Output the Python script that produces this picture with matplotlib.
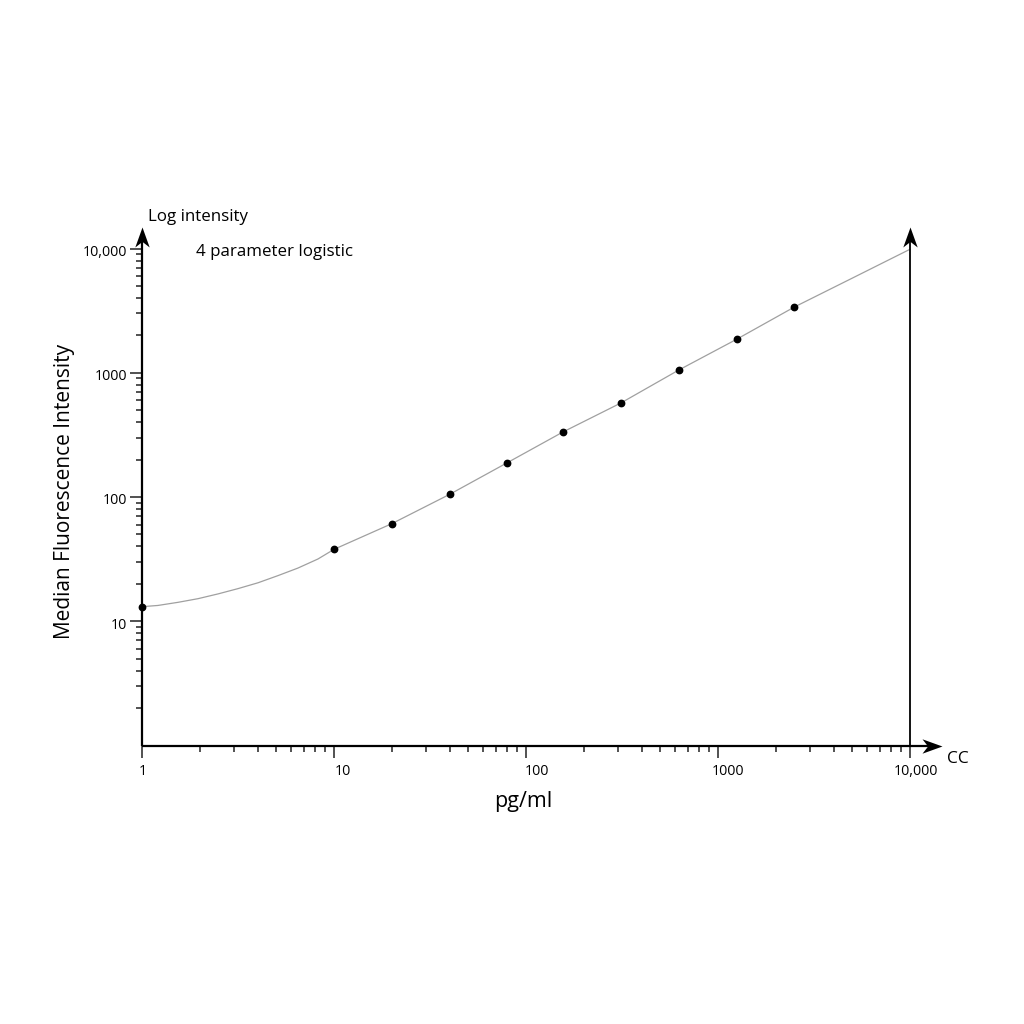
import matplotlib
matplotlib.use("Agg")
import matplotlib.pyplot as plt
from matplotlib.path import Path
from matplotlib.transforms import ScaledTranslation
from matplotlib.ticker import FixedLocator, LogLocator, NullFormatter

plt.rcParams['font.family'] = ['Open Sans', 'DejaVu Sans']

# ---- data ----
conc = [1, 10, 20, 40, 80, 156, 312, 625, 1250, 2500]
mfi = [13.1, 37.9, 61.0, 105, 189, 334, 571, 1052, 1859, 3382]

curve_x = [1, 1.21, 1.54, 1.96, 2.49, 3.16, 4.02, 5.11, 6.49, 8.25, 10, 20, 40,
           80, 156, 312, 625, 1250, 2500, 5000, 10000]
curve_y = [13.1, 13.4, 14.2, 15.2, 16.6, 18.3, 20.4, 23.3, 26.8, 31.7, 37.9,
           61.0, 105, 189, 334, 571, 1052, 1859, 3382, 5770, 9860]

x_ticks = [1, 10, 100, 1000, 10000]
x_tick_labels = ['1', '10', '100', '1000', '10,000']
y_ticks = [10, 100, 1000, 10000]
y_tick_labels = ['10', '100', '1000', '10,000']

W = H = 1024
fig = plt.figure(figsize=(10.24, 10.24), dpi=100)
ax_left, ax_right, ax_top, ax_bot = 142, 910, 248.5, 745.5
ax = fig.add_axes([ax_left / W, 1 - ax_bot / H, (ax_right - ax_left) / W, (ax_bot - ax_top) / H])
ax.set_xscale('log')
ax.set_yscale('log')
ax.set_xlim(1, 10000)
ax.set_ylim(1, 10000)
for s in ax.spines.values():
    s.set_visible(False)

ax.plot(curve_x, curve_y, color='#a0a0a0', lw=0.9, clip_on=False, zorder=2)
ax.plot(conc, mfi, 'o', color='black', ms=4.6, clip_on=False, zorder=3)

# ticks
ax.xaxis.set_major_locator(FixedLocator(x_ticks))
ax.set_xticklabels(x_tick_labels)
ax.yaxis.set_major_locator(FixedLocator(y_ticks))
ax.set_yticklabels(y_tick_labels)
for axis in (ax.xaxis, ax.yaxis):
    axis.set_minor_locator(LogLocator(base=10, subs=range(2, 10), numticks=20))
    axis.set_minor_formatter(NullFormatter())
ax.tick_params(which='major', direction='out', length=8.5, width=1.1, color='#222222',
               labelsize=10.3, labelcolor='black')
ax.tick_params(which='minor', direction='out', length=4.2, width=1.1, color='#222222')
ax.tick_params(axis='x', which='major', pad=5)
ax.tick_params(axis='y', which='major', pad=2)

x_offsets = [1, 9, 11, 9.5, 5.5]
for lab, dx in zip(ax.get_xticklabels(), x_offsets):
    lab.set_transform(lab.get_transform() + ScaledTranslation(dx / 100, 0, fig.dpi_scale_trans))
for lab in ax.get_yticklabels():
    lab.set_transform(lab.get_transform() + ScaledTranslation(0, -2 / 100, fig.dpi_scale_trans))

# axis lines with arrows (axes coordinates)
tip_y = 1 + (ax_top - 227) / (ax_bot - ax_top)
tip_x = 1 + (942 - ax_right) / (ax_right - ax_left)
notch_y = 1 + (ax_top - 241) / (ax_bot - ax_top)
notch_x = 1 + (928 - ax_right) / (ax_right - ax_left)
T = ax.transAxes
ax.plot([0, 0], [0, notch_y], color='black', lw=1.6, transform=T, clip_on=False, solid_capstyle='butt')
ax.plot([0, notch_x], [0, 0], color='black', lw=1.6, transform=T, clip_on=False, solid_capstyle='butt')
ax.plot([1, 1], [0, notch_y], color='black', lw=1.3, transform=T, clip_on=False, solid_capstyle='butt')

up = Path([(0, 0), (-0.36, -1), (0, -0.72), (0.36, -1), (0, 0)],
          [Path.MOVETO, Path.LINETO, Path.LINETO, Path.LINETO, Path.CLOSEPOLY])
right = Path([(0, 0), (-1, 0.36), (-0.72, 0), (-1, -0.36), (0, 0)],
             [Path.MOVETO, Path.LINETO, Path.LINETO, Path.LINETO, Path.CLOSEPOLY])
ms_arrow = 2 * 20 * 72 / 100
ax.plot([0, 1], [tip_y, tip_y], marker=up, ms=ms_arrow, color='black', ls='none',
        transform=T, clip_on=False, mew=0)
ax.plot([tip_x], [0], marker=right, ms=ms_arrow, color='black', ls='none',
        transform=T, clip_on=False, mew=0)

# texts
fig.text(148 / W, 1 - 217 / H, 'Log intensity', fontsize=12.2, ha='left', va='center')
fig.text(196 / W, 1 - 252 / H, '4 parameter logistic', fontsize=12.2, ha='left', va='center')
fig.text(947 / W, 1 - 759 / H, 'CC', fontsize=12.5, ha='left', va='center')
fig.text(523 / W, 1 - 802 / H, 'pg/ml', fontsize=15.5, ha='center', va='center')
fig.text(65 / W, 1 - 491 / H, 'Median Fluorescence Intensity', fontsize=15,
         ha='center', va='center', rotation=90)

fig.savefig('out.png', dpi=100, facecolor='white')
